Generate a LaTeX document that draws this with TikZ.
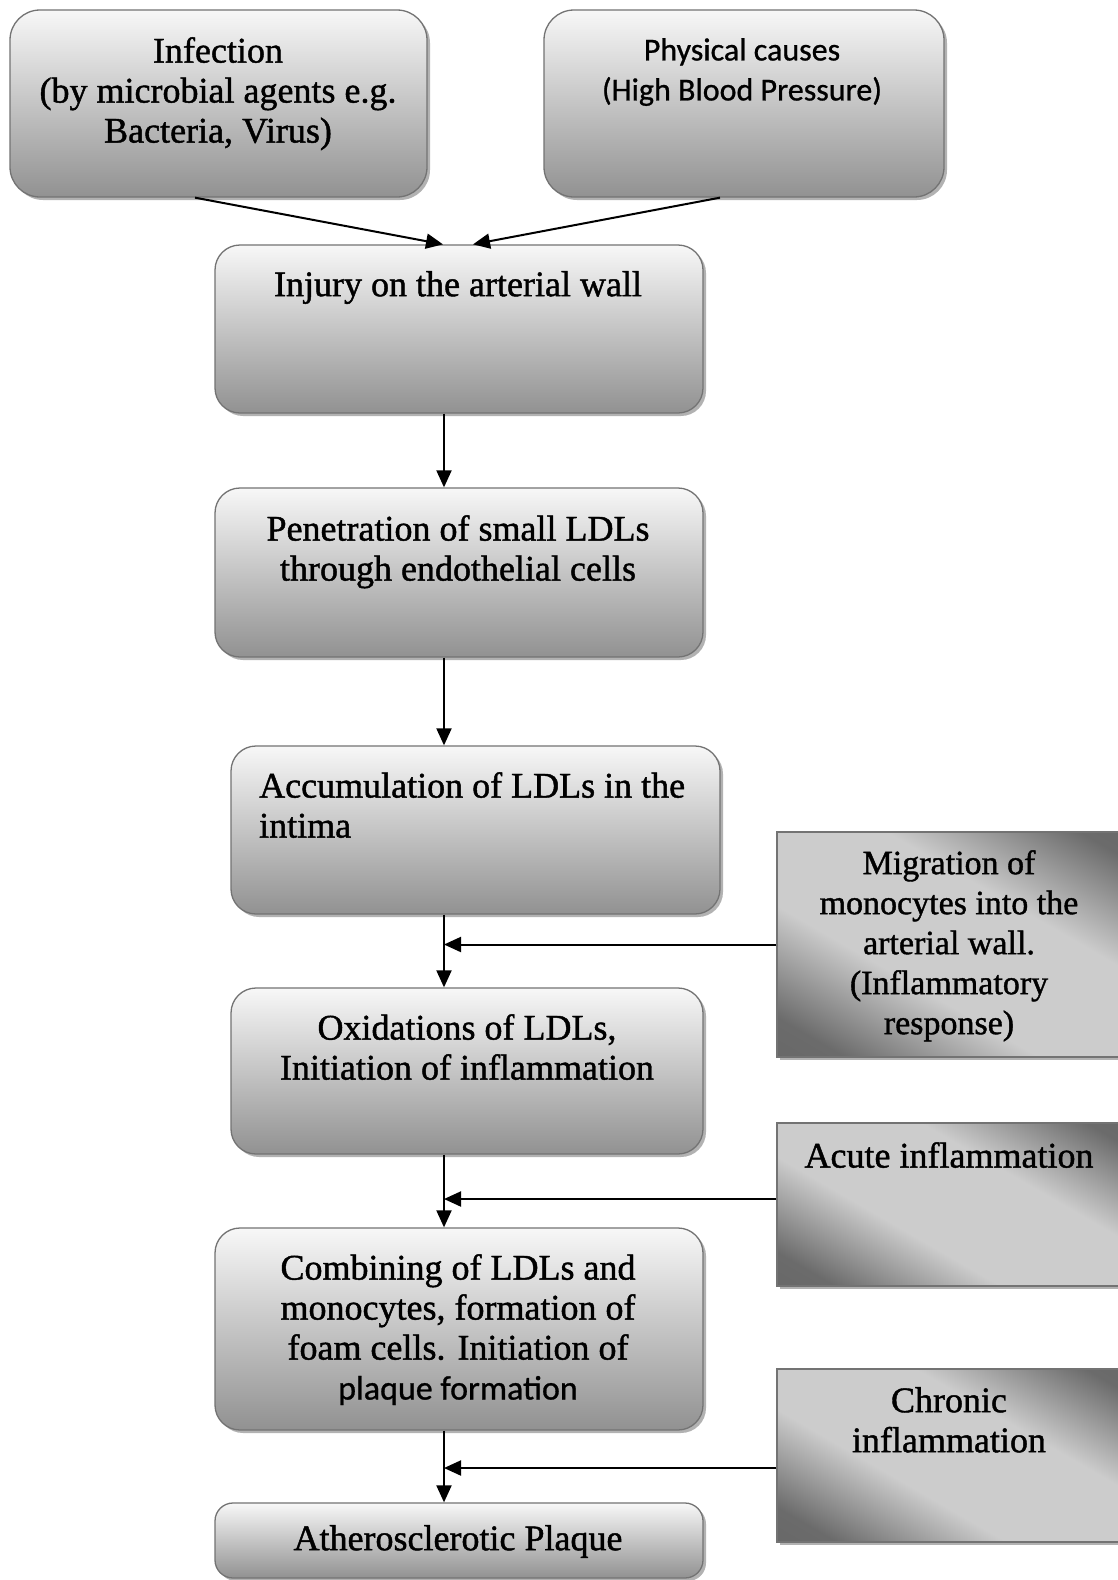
\documentclass[tikz,border=0pt]{standalone}
\usepackage{fontspec}
\setmainfont{Liberation Serif}[FakeBold=1.2]
\newfontfamily\carlito{Carlito}[FakeBold=0.8]
\usetikzlibrary{arrows.meta,shadows,calc}
\pgfdeclarehorizontalshading{sideshade}{100bp}{color(0bp)=(black!62); color(22bp)=(black!58); color(40bp)=(black!20); color(62bp)=(black!20); color(80bp)=(black!58); color(100bp)=(black!62)}
\begin{document}
\begin{tikzpicture}[x=1pt,y=-1pt,
  rbox/.style={draw=black!55, line width=1.3pt, rounded corners=25pt, top color=black!3, bottom color=black!43,
    drop shadow={shadow xshift=3pt, shadow yshift=-3pt, opacity=0.3, fill=black}},
  sbox/.style={draw=black!55, line width=1.3pt, shading=sideshade, shading angle=60,
    drop shadow={shadow xshift=3pt, shadow yshift=-3pt, opacity=0.3, fill=black}},
  txt/.style={font=\fontsize{36}{40}\selectfont, align=center, inner sep=0pt, anchor=north},
  stxt/.style={font=\carlito\fontsize{32}{40}\selectfont, align=center, inner sep=0pt, anchor=north},
  arr/.style={line width=2pt, -{Triangle[length=17pt,width=15pt]}}]
\fill[white] (0,0) rectangle (1117,1580);
\useasboundingbox (0,0) rectangle (1117,1580);
% boxes
\node[rbox, minimum width=417pt, minimum height=187pt, rounded corners=30pt] (inf) at (218.5,103.5) {};
\node[rbox, minimum width=400pt, minimum height=187pt, rounded corners=30pt] (phy) at (744,103.5) {};
\node[rbox, minimum width=488pt, minimum height=168pt] (inj) at (459,329) {};
\node[rbox, minimum width=488pt, minimum height=169pt] (pen) at (459,572.5) {};
\node[rbox, minimum width=489pt, minimum height=168pt] (acc) at (475.5,830) {};
\node[rbox, minimum width=472pt, minimum height=166pt] (oxi) at (467,1071) {};
\node[rbox, minimum width=488pt, minimum height=202pt] (com) at (459,1329) {};
\node[rbox, minimum width=488pt, minimum height=75pt, rounded corners=18pt] (ath) at (459,1540.5) {};
\node[sbox, minimum width=350pt, minimum height=225pt] (mig) at (952,944.5) {};
\node[sbox, minimum width=350pt, minimum height=163pt] (acu) at (952,1204.5) {};
\node[sbox, minimum width=350pt, minimum height=173pt] (chr) at (952,1455.5) {};
% texts
\node[txt] (infT) at (218,37) {Infection\\(by microbial agents e.g.\\Bacteria, Virus)};
\node[stxt] (phyT) at (742,38) {Physical causes\\(High Blood Pressure)};
\node[txt] (injT) at (458,271) {Injury on the arterial wall};
\node[txt] (penT) at (458,515) {Penetration of small LDLs\\through endothelial cells};
\node[txt, anchor=north west, align=left] (accT) at (259,772) {Accumulation of LDLs in the\\intima};
\node[txt] (oxiT) at (467,1014) {Oxidations of LDLs,\\Initiation of inflammation};
\node[txt] (comT) at (458,1254) {Combining of LDLs and\\monocytes, formation of\\foam cells. Initiation of\\{\carlito\fontsize{34}{40}\selectfont plaque formation}};
\node[txt] (athT) at (458,1525) {Atherosclerotic Plaque};
\node[txt, font=\fontsize{34}{40}\selectfont] (migT) at (949,850) {Migration of\\monocytes into the\\arterial wall.\\(Inflammatory\\response)};
\node[txt] (acuT) at (949,1142) {Acute inflammation};
\node[txt] (chrT) at (949,1387) {Chronic\\inflammation};
% connectors
\coordinate (vx) at (444,0);
\draw[arr] ([xshift=-23.5pt]inf.south) -- ([xshift=-16pt]inj.north);
\draw[arr] ([xshift=-24pt]phy.south) -- ([xshift=14pt]inj.north);
\draw[arr] (inj.south -| vx) -- (pen.north -| vx);
\draw[arr] (pen.south -| vx) -- (acc.north -| vx);
\draw[arr] (acc.south -| vx) -- (oxi.north -| vx);
\draw[arr] (oxi.south -| vx) -- (com.north -| vx);
\draw[arr] (com.south -| vx) -- (ath.north -| vx);
\draw[arr] (mig.west) -- (mig.west -| vx);
\draw[arr] ([yshift=5.5pt]acu.west) -- ([yshift=5.5pt]acu.west -| vx);
\draw[arr] ([yshift=-12.5pt]chr.west) -- ([yshift=-12.5pt]chr.west -| vx);
\end{tikzpicture}
\end{document}
